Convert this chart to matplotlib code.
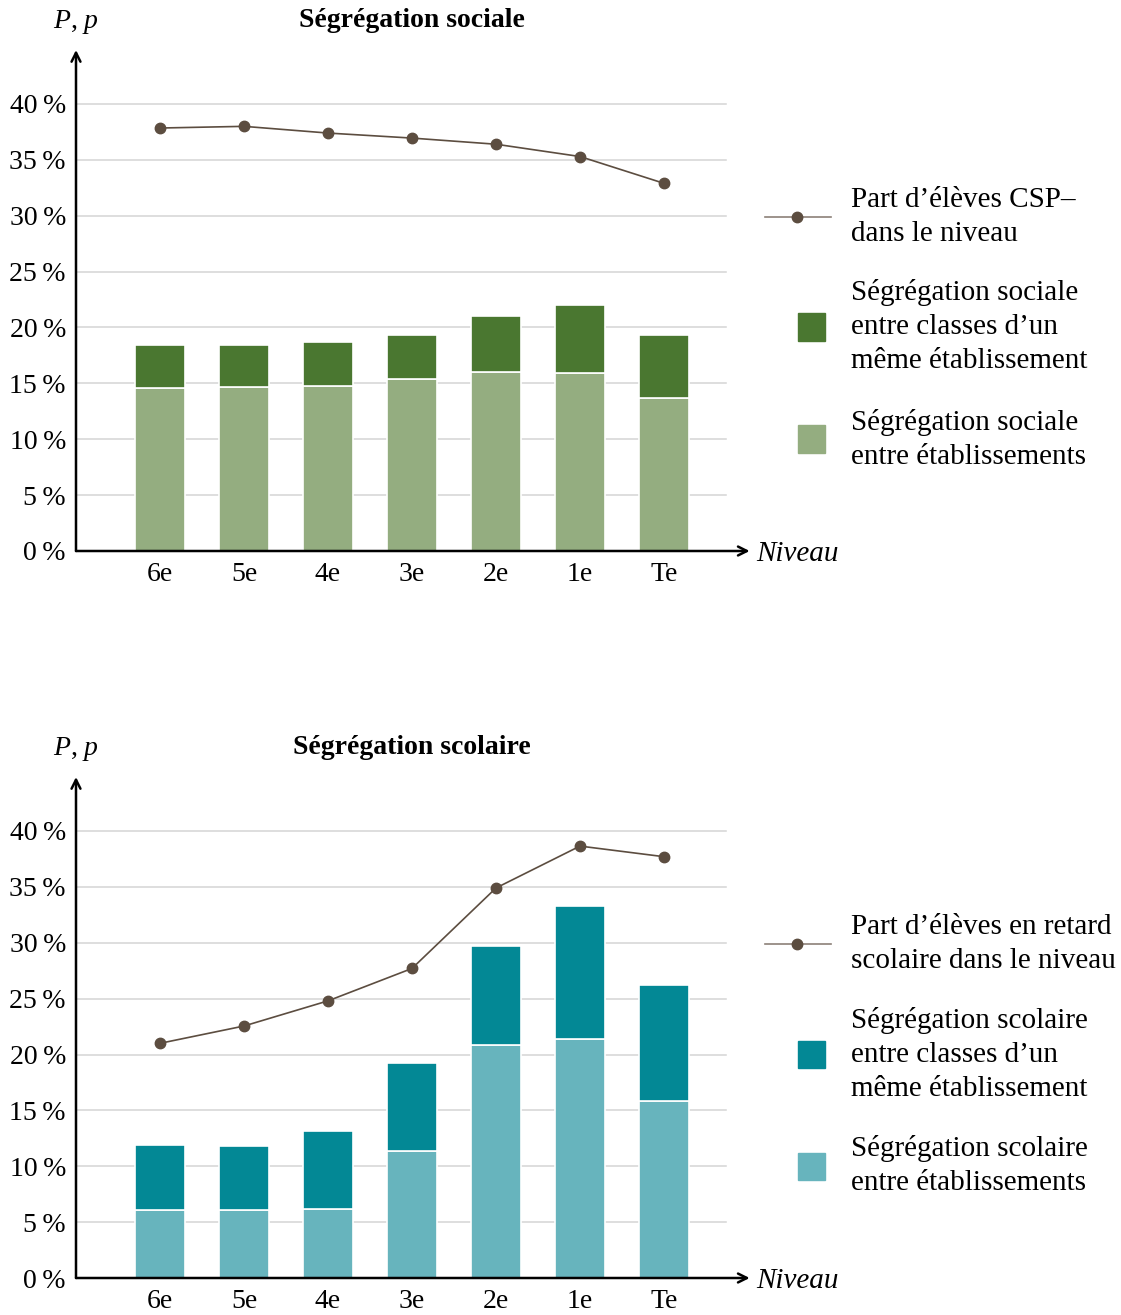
import matplotlib.pyplot as plt
from matplotlib.lines import Line2D
from matplotlib.patches import Rectangle

plt.rcParams['font.family'] = ['Liberation Serif', 'DejaVu Serif']
plt.rcParams['mathtext.fontset'] = 'custom'
plt.rcParams['mathtext.it'] = 'Liberation Serif:italic'

niveaux = ['6e', '5e', '4e', '3e', '2e', '1e', 'Te']

# Ségrégation sociale
soc_part = [37.85, 38.0, 37.4, 36.95, 36.4, 35.3, 32.9]
soc_entre_etab = [14.6, 14.7, 14.8, 15.4, 16.0, 15.9, 13.7]
soc_total = [18.4, 18.4, 18.7, 19.3, 21.0, 22.0, 19.3]

# Ségrégation scolaire
sco_part = [21.0, 22.55, 24.8, 27.7, 34.9, 38.65, 37.7]
sco_entre_etab = [6.1, 6.1, 6.2, 11.4, 20.85, 21.4, 15.85]
sco_total = [11.9, 11.8, 13.15, 19.25, 29.7, 33.3, 26.2]

BROWN = '#5c4d40'
FS = 20      # ticks, titles
FS_LEG = 21  # legend, axis labels

W, H = 1121, 1315
fig = plt.figure(figsize=(W / 100, H / 100), dpi=100)


def panel(y0_px, title, part, base, total, c_light, c_dark, leg_line, leg_dark, leg_light):
    ax = fig.add_axes([76 / W, 1 - y0_px / H, (748 - 76) / W, 501 / H])
    ymax = 501 / 11.175
    ax.set_xlim(-1, 7)
    ax.set_ylim(0, ymax)
    ax.axis('off')
    x = range(len(niveaux))
    top = [t - b for t, b in zip(total, base)]
    for v in range(5, 45, 5):
        ax.plot([-1, 6.74], [v, v], color='#d4d4d4', lw=1.1, zorder=0)
    ax.bar(x, base, width=0.6, color=c_light, edgecolor='white', lw=1.2, zorder=2)
    ax.bar(x, top, width=0.6, bottom=base, color=c_dark, edgecolor='white', lw=1.2, zorder=2)
    ax.plot(x, part, color=BROWN, lw=1.2, marker='o', ms=7.5, zorder=3)
    # axes with arrows
    ax.annotate('', xy=(7.02, 0), xytext=(-1, 0),
                arrowprops=dict(arrowstyle='->', lw=1.8, color='black', shrinkA=0, shrinkB=0,
                                mutation_scale=16), annotation_clip=False)
    ax.annotate('', xy=(-1, ymax), xytext=(-1, 0),
                arrowprops=dict(arrowstyle='->', lw=1.8, color='black', shrinkA=0, shrinkB=0,
                                mutation_scale=16), annotation_clip=False)
    for v in range(0, 45, 5):
        ax.text(-1.12, v, f'{v}\u2009%', ha='right', va='center_baseline', fontsize=FS)
    for i, n in enumerate(niveaux):
        ax.text(i, -2.1, n, ha='center', va='center', fontsize=FS)
    ax.text(7.1, 0, 'Niveau', ha='left', va='center_baseline', fontsize=FS_LEG, style='italic')
    ax.text(-1, ymax + 2.5, '$P$, $p$', ha='center', va='center', fontsize=FS)
    ax.text(3, ymax + 2.6, title, ha='center', va='center', fontsize=FS, weight='bold')

    # legend drawn by hand
    def fy(py):
        return 1 - py / H
    ly = leg_line[0]
    fig.add_artist(Line2D([765 / W, 831 / W], [fy(ly), fy(ly)], color='#8c8078', lw=1.2))
    fig.add_artist(Line2D([797 / W], [fy(ly)], marker='o', ms=7.5, color=BROWN))
    fig.text(851 / W, fy(ly), leg_line[1], ha='left', va='center', fontsize=FS_LEG, linespacing=1.4)
    for (sy, label), col in ((leg_dark, c_dark), (leg_light, c_light)):
        fig.add_artist(Rectangle((798 / W, fy(sy + 13.5)), 27 / W, 27 / H, color=col,
                                 transform=fig.transFigure))
        fig.text(851 / W, fy(sy), label, ha='left', va='center', fontsize=FS_LEG, linespacing=1.4)


panel(551, 'Ségrégation sociale', soc_part, soc_entre_etab, soc_total, '#94ad80', '#4a7730',
      (217, 'Part d’élèves CSP–\ndans le niveau'),
      (327, 'Ségrégation sociale\nentre classes d’un\nmême établissement'),
      (439, 'Ségrégation sociale\nentre établissements'))
panel(1278, 'Ségrégation scolaire', sco_part, sco_entre_etab, sco_total, '#67b4bd', '#038895',
      (944, 'Part d’élèves en retard\nscolaire dans le niveau'),
      (1054, 'Ségrégation scolaire\nentre classes d’un\nmême établissement'),
      (1166, 'Ségrégation scolaire\nentre établissements'))

fig.savefig('out.png', dpi=100)
